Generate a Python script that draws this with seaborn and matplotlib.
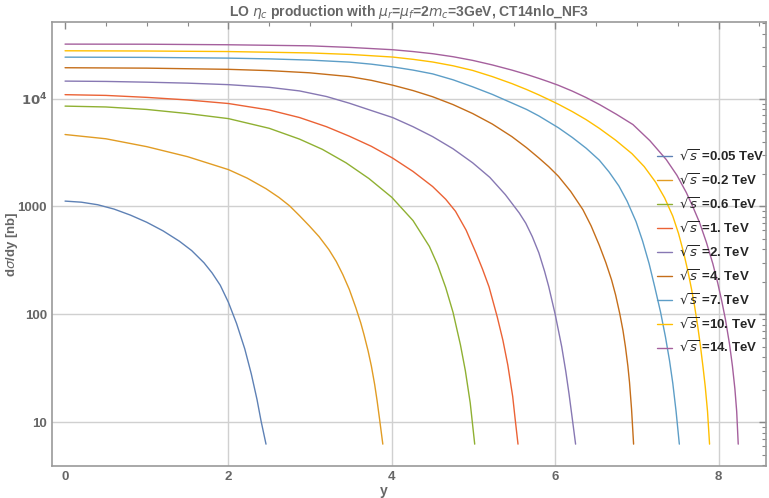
import numpy as np
import pandas as pd
import matplotlib
matplotlib.use("Agg")
import matplotlib.pyplot as plt
import matplotlib.ticker as mticker
import seaborn as sns

# collision energies (TeV) and curve colours
energies = ["0.05", "0.2", "0.6", "1.", "2.", "4.", "7.", "10.", "14."]
colors = ["#5E81B5", "#E19C24", "#8FB032", "#EB6235", "#8778B3",
          "#C56E1A", "#5D9EC7", "#FFBF00", "#A5609D"]

# rapidity points and d(sigma)/dy [nb]
y_005 = [0, 0.2, 0.4, 0.6, 0.8, 1.0, 1.2, 1.4, 1.55, 1.7, 1.8, 1.9, 2.0, 2.1, 2.2,
         2.28, 2.35, 2.40, 2.46]
s_005 = [1122, 1096, 1038, 946, 832, 714, 594, 476, 390, 301, 242, 186, 129, 82.0,
         47.8, 28.0, 16.2, 10.2, 6.25]

y_02 = [0, 0.5, 1.0, 1.5, 2.0, 2.23, 2.46, 2.62, 2.75, 2.87, 2.99, 3.11, 3.23, 3.32,
        3.40, 3.48, 3.56, 3.62, 3.66, 3.71, 3.75, 3.79, 3.82, 3.85, 3.89]
s_02 = [4650, 4246, 3589, 2897, 2198, 1832, 1462, 1211, 1012, 822, 661, 525, 398, 309,
        234, 170, 115, 83.2, 64.6, 45.7, 33.1, 22.4, 15.8, 10.7, 6.25]

y_06 = [0, 0.5, 1.0, 1.5, 2.0, 2.5, 2.87, 3.15, 3.44, 3.72, 4.0, 4.26, 4.46, 4.56,
        4.66, 4.75, 4.84, 4.90, 4.96, 5.015]
s_06 = [8530, 8375, 7943, 7278, 6531, 5309, 4217, 3388, 2541, 1816, 1216, 740, 426, 288,
        177, 104, 52.2, 30.1, 15.1, 6.25]

y_1 = [0, 0.5, 1.0, 1.5, 2.0, 2.5, 2.87, 3.2, 3.48, 3.75, 4.01, 4.26, 4.50, 4.66, 4.78,
       4.91, 5.03, 5.11, 5.19, 5.29, 5.36, 5.42, 5.48, 5.51, 5.545]
s_1 = [10890, 10720, 10280, 9727, 9016, 7852, 6683, 5495, 4487, 3614, 2812, 2113, 1531,
       1167, 902, 603, 372, 263, 180, 95.1, 57.5, 33.9, 17.3, 10.7, 6.25]

y_2 = [0, 0.5, 1.0, 1.5, 2.0, 2.5, 2.87, 3.2, 3.48, 3.75, 4.01, 4.26, 4.50, 4.75, 4.99,
       5.2, 5.39, 5.56, 5.64, 5.72, 5.80, 5.87, 5.92, 6.00, 6.08, 6.13, 6.17, 6.21, 6.25]
s_2 = [14550, 14450, 14220, 13930, 13490, 12740, 11800, 10470, 9078, 7762, 6683, 5495,
       4446, 3428, 2541, 1862, 1288, 871, 700, 525, 372, 251, 182, 100, 50.1, 29.5, 18.2,
       10.7, 6.25]

y_4 = [0, 1.0, 2.0, 2.5, 2.99, 3.48, 3.75, 4.01, 4.26, 4.50, 4.75, 4.99, 5.23, 5.47,
       5.65, 5.80, 5.92, 6.04, 6.19, 6.34, 6.44, 6.54, 6.62, 6.69, 6.74, 6.79, 6.83, 6.86,
       6.89, 6.91, 6.935, 6.96]
s_4 = [19360, 19190, 18710, 18200, 17380, 16030, 14790, 13340, 11890, 10420, 8810, 7278,
       5821, 4446, 3508, 2818, 2344, 1905, 1380, 933, 661, 437, 302, 209, 151, 102, 70.8,
       50.1, 33.1, 23.4, 13.2, 6.25]

y_7 = [0, 1.0, 2.0, 2.5, 2.99, 3.48, 3.75, 4.01, 4.26, 4.50, 4.75, 4.99, 5.23, 5.47,
       5.65, 5.80, 5.92, 6.04, 6.21, 6.38, 6.54, 6.66, 6.78, 6.88, 6.99, 7.07, 7.15, 7.22,
       7.29, 7.35, 7.40, 7.44, 7.48, 7.52]
s_7 = [24270, 24150, 23770, 23390, 22800, 21830, 20890, 19720, 18410, 16980, 14960, 12880,
       10960, 9120, 7943, 6918, 6095, 5370, 4365, 3467, 2692, 2089, 1549, 1122, 724, 479,
       295, 178, 105, 61.7, 37.2, 22.9, 12.6, 6.25]

y_10 = [0, 1.0, 2.0, 3.0, 3.5, 4.01, 4.26, 4.50, 4.75, 4.99, 5.23, 5.47, 5.65, 5.80,
        5.92, 6.04, 6.21, 6.38, 6.54, 6.74, 6.94, 7.09, 7.23, 7.34, 7.44, 7.51, 7.57,
        7.625, 7.67, 7.706, 7.745, 7.776, 7.81, 7.837, 7.865, 7.89]
s_10 = [27800, 27670, 27350, 26550, 25700, 24320, 23170, 21880, 20180, 18280, 16030,
        13800, 12160, 10840, 9817, 8872, 7586, 6383, 5309, 4121, 3090, 2344, 1679, 1202,
        813, 562, 380, 251, 170, 120, 77.6, 52.5, 32.4, 21.4, 12.6, 6.25]

y_14 = [0, 1.0, 2.0, 3.0, 3.5, 4.01, 4.26, 4.50, 4.75, 4.99, 5.23, 5.47, 5.65, 5.80,
        5.92, 6.04, 6.21, 6.38, 6.544, 6.75, 6.952, 7.16, 7.36, 7.49, 7.605, 7.69, 7.768,
        7.85, 7.93, 7.99, 8.04, 8.085, 8.135, 8.17, 8.2, 8.222, 8.241]
s_14 = [32060, 31990, 31620, 30900, 29850, 28440, 27350, 26120, 24490, 22650, 20560,
        18410, 16790, 15420, 14350, 13300, 11750, 10230, 8810, 7161, 5754, 4074, 2723,
        1950, 1349, 977, 708, 468, 295, 195, 132, 89.1, 52.5, 33.1, 20.4, 12.6, 6.25]

ys = [y_005, y_02, y_06, y_1, y_2, y_4, y_7, y_10, y_14]
sigmas = [s_005, s_02, s_06, s_1, s_2, s_4, s_7, s_10, s_14]

labels = [r"$\sqrt{s}$ =" + e + " TeV" for e in energies]
frames = [pd.DataFrame({"y": yy, "dsdy": ss, "energy": lab})
          for yy, ss, lab in zip(ys, sigmas, labels)]
df = pd.concat(frames, ignore_index=True)

sns.set_style("white")
plt.rcParams["font.family"] = ["Liberation Sans", "DejaVu Sans"]
plt.rcParams["mathtext.fontset"] = "dejavusans"

grey = "#666666"
fig = plt.figure(figsize=(7.69, 4.98), dpi=100)
ax = fig.add_axes([0.0676, 0.0643, 0.9284, 0.8915])

sns.lineplot(data=df, x="y", y="dsdy", hue="energy", palette=colors,
             linewidth=1.0, sort=True, ax=ax, legend=True)

ax.set_yscale("log")
ax.set_xlim(-0.16, 8.58)
ax.set_ylim(3.92, 51400)

# grid lines like the reference (no line at y=0)
for gx in [2, 4, 6, 8]:
    ax.axvline(gx, color="#d0d0d0", lw=1.0, zorder=0)
for gy in [10, 100, 1000, 10000]:
    ax.axhline(gy, color="#d0d0d0", lw=1.0, zorder=0)

ax.xaxis.set_major_locator(mticker.FixedLocator([0, 2, 4, 6, 8]))
ax.xaxis.set_minor_locator(mticker.MultipleLocator(0.5))
ax.yaxis.set_major_locator(mticker.FixedLocator([10, 100, 1000, 10000]))
ax.yaxis.set_major_formatter(mticker.FixedFormatter(["10", "100", "1000", r"$\mathbf{10^4}$"]))
ax.yaxis.set_minor_locator(mticker.LogLocator(base=10, subs=np.arange(2, 10)))
ax.yaxis.set_minor_formatter(mticker.NullFormatter())

ax.tick_params(which="both", direction="in", top=True, right=True, color="#888888",
               labelcolor=grey, labelsize=9.5)
ax.tick_params(which="major", length=5, width=1)
ax.tick_params(which="minor", length=3, width=0.8)
for lab in ax.get_xticklabels() + ax.get_yticklabels():
    lab.set_fontweight("bold")
for sp in ax.spines.values():
    sp.set_color("#9a9a9a")
    sp.set_linewidth(1.2)

ax.set_xlabel("y", color=grey, fontweight="bold", fontsize=10)
ax.set_ylabel(r"d$\sigma$/dy [nb]", color=grey, fontweight="bold", fontsize=9.5)
ax.xaxis.set_label_coords(0.465, -0.040)
ax.yaxis.set_label_coords(-0.045, 0.5)
ax.set_title(r"LO $\eta_c$ production with $\mu_r$=$\mu_f$=2$m_c$=3GeV, CT14nlo_NF3",
             color=grey, fontweight="bold", fontsize=10, pad=4)

leg = ax.legend(loc="center left", bbox_to_anchor=(0.831, 0.482), frameon=False,
                handlelength=1.1, handletextpad=0.55, labelspacing=0.66,
                prop={"weight": "bold", "size": 9.5})

fig.savefig("out.png", dpi=100)
